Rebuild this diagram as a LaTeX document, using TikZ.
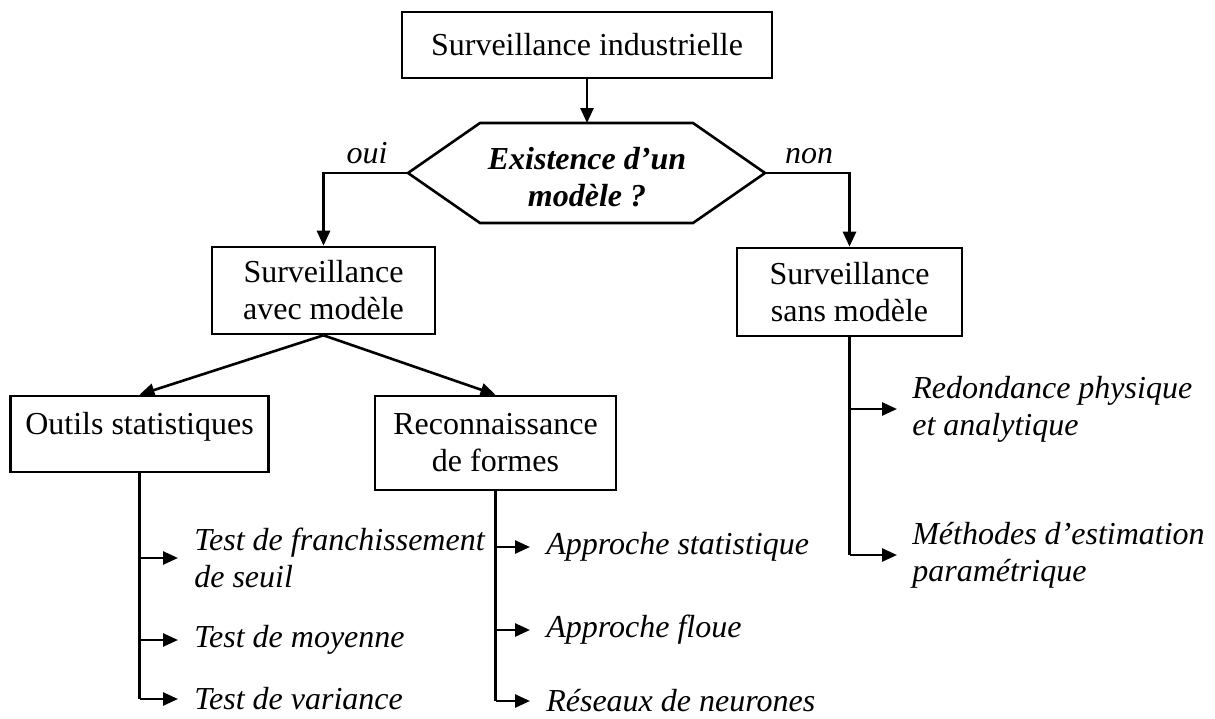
\documentclass[tikz,border=0pt]{standalone}
\usepackage{fontspec}
\setmainfont{Liberation Serif}
\usetikzlibrary{arrows.meta}
\begin{document}
\begin{tikzpicture}[x=0.5pt,y=-0.5pt,
  font=\fontsize{16}{18.5}\selectfont,
  line width=1.3pt,
  box/.style={draw, line width=1.3pt, inner sep=0pt, align=center},
  arr/.style={-{Triangle[length=7.5pt,width=6.5pt]}},
  item/.style={anchor=west, inner sep=0pt, align=left, font=\fontsize{16}{18.5}\selectfont\itshape},
  lbl/.style={anchor=base, inner sep=0pt, font=\fontsize{16}{18.5}\selectfont\itshape}]
\useasboundingbox (0,0) rectangle (1215,718);

% boxes
\node[box, minimum width=185pt, minimum height=33pt] (top) at (587,45) {Surveillance industrielle};
\node[box, minimum width=111.5pt, minimum height=43.5pt] (avec) at (323.5,290.5) {Surveillance\\avec modèle};
\node[box, minimum width=112.5pt, minimum height=44pt] (sans) at (849.5,292) {Surveillance\\sans modèle};
\node[box, minimum width=129pt, minimum height=38pt, text height=9pt, text depth=9pt] (outils) at (139.5,434) {Outils statistiques};
\node[box, minimum width=120.5pt, minimum height=47pt] (recon) at (495.5,443) {Reconnaissance\\de formes};

% decision hexagon
\coordinate (hexL) at (408,173);
\coordinate (hexR) at (765,173);
\coordinate (hexT) at (587,123);
\draw (hexL) -- (480,123) -- (693,123) -- (hexR) -- (693,223) -- (480,223) -- cycle;
\node[inner sep=0pt, align=center, font=\fontsize{16}{18.5}\selectfont\bfseries\itshape] (hex) at (587,177) {Existence d’un\\modèle ?};

% labels
\node[lbl] (oui) at (367,163) {oui};
\node[lbl] (non) at (809,163) {non};

% leaf texts
\node[item] (t1) at (193,558) {Test de franchissement\\de seuil};
\node[item] (t2) at (193,640) {Test de moyenne};
\node[item] (t3) at (193,699) {Test de variance};
\node[item] (r1) at (545,547) {Approche statistique};
\node[item] (r2) at (545,630) {Approche floue};
\node[item] (r3) at (545,701) {Réseaux de neurones};
\node[item] (s1) at (911,409) {Redondance physique\\et analytique};
\node[item] (s2) at (911,555) {Méthodes d’estimation\\paramétrique};

% connectors
\draw[arr] (top.south) -- (hexT);
\draw[arr] (hexL) -| (avec.north);
\draw[arr] (hexR) -| (sans.north);
\draw[arr] (avec.south) -- (outils.north);
\draw[arr] (avec.south) -- (recon.north);

\draw (outils.south) -- (outils.south |- t3.west);
\draw[arr] (outils.south |- t1.west) -- ([xshift=-7.5pt]t1.west);
\draw[arr] (outils.south |- t2.west) -- ([xshift=-7.5pt]t2.west);
\draw[arr] (outils.south |- t3.west) -- ([xshift=-7.5pt]t3.west);

\draw (recon.south) -- (recon.south |- r3.west);
\draw[arr] (recon.south |- r1.west) -- ([xshift=-7.5pt]r1.west);
\draw[arr] (recon.south |- r2.west) -- ([xshift=-7.5pt]r2.west);
\draw[arr] (recon.south |- r3.west) -- ([xshift=-7.5pt]r3.west);

\draw (sans.south) -- (sans.south |- s2.west);
\draw[arr] (sans.south |- s1.west) -- ([xshift=-7pt]s1.west);
\draw[arr] (sans.south |- s2.west) -- ([xshift=-7pt]s2.west);
\end{tikzpicture}
\end{document}
